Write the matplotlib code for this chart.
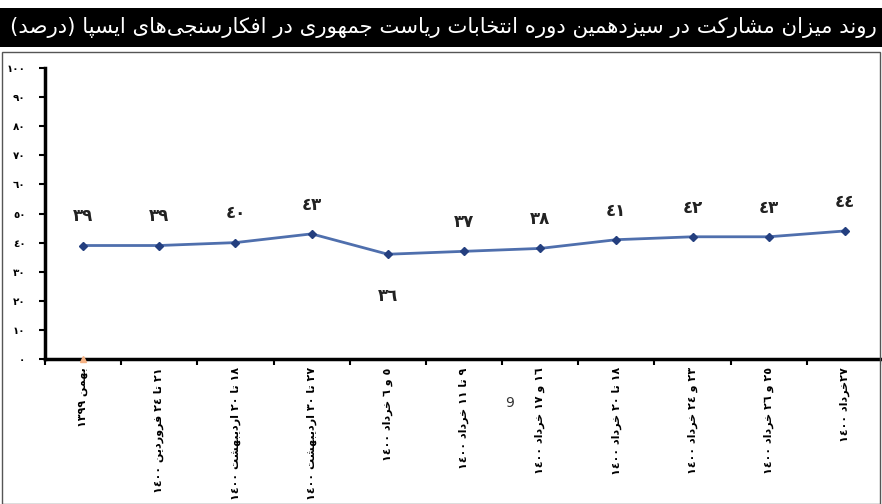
import re
import matplotlib
matplotlib.use('Agg')
from matplotlib import pyplot as plt
from matplotlib import font_manager as fm
from matplotlib.ft2font import FT2Font
from matplotlib.patches import Rectangle

# data
title = 'روند میزان مشارکت در سیزدهمین دوره انتخابات ریاست جمهوری در افکارسنجی\u200cهای ایسپا (درصد)'
categories = [
    'بهمن ١٣٩٩',
    '٢١ تا ٢٤ فروردین ١٤٠٠',
    '١٨ تا ٢٠ اردیبهشت ١٤٠٠',
    '٢٧ تا ٣٠ اردیبهشت ١٤٠٠',
    '٥ و ٦ خرداد ١٤٠٠',
    '٩ تا ١١ خرداد ١٤٠٠',
    '١٦ و ١٧ خرداد ١٤٠٠',
    '١٨ تا ٢٠ خرداد ١٤٠٠',
    '٢٣ و ٢٤ خرداد ١٤٠٠',
    '٢٥ و ٢٦ خرداد ١٤٠٠',
    '٢٧خرداد ١٤٠٠',
]
values = [39, 39, 40, 43, 36, 37, 38, 41, 42, 42, 44]
value_labels = ['٣٩', '٣٩', '٤٠', '٤٣', '٣٦', '٣٧', '٣٨', '٤١', '٤٢', '٤٣', '٤٤']
y_ticks = [0, 10, 20, 30, 40, 50, 60, 70, 80, 90, 100]
# stray second series (one orange point at zero)
extra_x = [0]
extra_y = [0]

AR_DIGITS = str.maketrans('0123456789', '٠١٢٣٤٥٦٧٨٩')

# matplotlib does no arabic shaping, so do it by hand with presentation forms
FORMS = {
    'ا': ('\uFE8D', '\uFE8E'),
    'ب': ('\uFE8F', '\uFE90', '\uFE91', '\uFE92'),
    'پ': ('\uFB56', '\uFB57', '\uFB58', '\uFB59'),
    'ت': ('\uFE95', '\uFE96', '\uFE97', '\uFE98'),
    'ج': ('\uFE9D', '\uFE9E', '\uFE9F', '\uFEA0'),
    'خ': ('\uFEA5', '\uFEA6', '\uFEA7', '\uFEA8'),
    'د': ('\uFEA9', '\uFEAA'),
    'ر': ('\uFEAD', '\uFEAE'),
    'ز': ('\uFEAF', '\uFEB0'),
    'س': ('\uFEB1', '\uFEB2', '\uFEB3', '\uFEB4'),
    'ش': ('\uFEB5', '\uFEB6', '\uFEB7', '\uFEB8'),
    'ص': ('\uFEB9', '\uFEBA', '\uFEBB', '\uFEBC'),
    'ف': ('\uFED1', '\uFED2', '\uFED3', '\uFED4'),
    'ک': ('\uFB8E', '\uFB8F', '\uFB90', '\uFB91'),
    'ل': ('\uFEDD', '\uFEDE', '\uFEDF', '\uFEE0'),
    'م': ('\uFEE1', '\uFEE2', '\uFEE3', '\uFEE4'),
    'ن': ('\uFEE5', '\uFEE6', '\uFEE7', '\uFEE8'),
    'ه': ('\uFEE9', '\uFEEA', '\uFEEB', '\uFEEC'),
    'و': ('\uFEED', '\uFEEE'),
    'ی': ('\uFBFC', '\uFBFD', '\uFBFE', '\uFBFF'),
}
FALLBACK = {
    'ی': ('\uFEEF', '\uFEF0', '\uFEF3', '\uFEF4'),
    'ک': ('\uFED9', '\uFEDA', '\uFEDB', '\uFEDC'),
    'پ': ('\uFE8F', '\uFE90', '\uFE91', '\uFE92'),
}

try:
    cmap = FT2Font(fm.findfont('DejaVu Sans')).get_charmap()
    for k, alt in FALLBACK.items():
        if not all(ord(c) in cmap for c in FORMS[k]):
            FORMS[k] = alt
except Exception as e:
    print(e)


def shape(text):
    out = []
    n = len(text)
    for i, ch in enumerate(text):
        if ch not in FORMS:
            if ch != '\u200c':
                out.append(ch)
            continue
        f = FORMS[ch]
        prev = i > 0 and text[i - 1] in FORMS and len(FORMS[text[i - 1]]) == 4
        nxt = i < n - 1 and text[i + 1] in FORMS and len(f) == 4
        if prev and nxt:
            out.append(f[3])
        elif nxt:
            out.append(f[2])
        elif prev:
            out.append(f[1])
        else:
            out.append(f[0])
    return ''.join(out)


def rtl(text):
    s = shape(text)
    parts = re.findall(r'[0-9\u0660-\u0669]+|[^0-9\u0660-\u0669]+', s)
    mirror = str.maketrans('()', ')(')
    vis = []
    for p in reversed(parts):
        if re.match(r'[0-9\u0660-\u0669]', p):
            vis.append(p)
        else:
            vis.append(p[::-1].translate(mirror))
    return ''.join(vis)


plt.rcParams['font.family'] = ['DejaVu Sans']

fig = plt.figure(figsize=(8.82, 5.04), dpi=100)
W, H = 882, 504

# black title banner and the grey frame round the chart
fig.patches.append(Rectangle((0, 1 - 47 / H), 1, 39 / H, transform=fig.transFigure,
                             facecolor='black', edgecolor='none', zorder=0))
fig.patches.append(Rectangle((2 / W, 0), 878 / W, 1 - 52 / H, transform=fig.transFigure,
                             facecolor='none', edgecolor='#555555', linewidth=1, zorder=0))
t = fig.text(877 / W, 1 - 28 / H, rtl(title), color='white', fontsize=15,
             ha='right', va='center')
fig.canvas.draw()
w = t.get_window_extent().width
t.set_fontsize(15 * 872 / w)

ax = fig.add_axes([45 / W, 1 - 359 / H, 838 / W, 291 / H])
x = list(range(len(values)))
ax.plot(x, values, color='#4f6fad', linewidth=2, marker='D', markersize=4,
        markerfacecolor='#243f7f', markeredgecolor='#243f7f', zorder=3)
ax.plot(extra_x, extra_y, linestyle='none', marker='^', markersize=4,
        color='#f4b183', clip_on=False, zorder=4)

for xi, v, lab in zip(x, values, value_labels):
    dy = -30 if v == min(values) else 21
    ax.annotate(lab, (xi, v), xytext=(0, dy), textcoords='offset points',
                ha='center', va='center', fontsize=12, fontweight='bold', color='#222222')

ax.set_xlim(-0.5, 10.5)
ax.set_ylim(0, 100)
ax.set_yticks(y_ticks)
ax.set_yticklabels([str(v).translate(AR_DIGITS) for v in y_ticks],
                   fontsize=7.5, fontweight='bold')
ax.tick_params(axis='y', direction='out', length=4, width=1.5, pad=10)

ax.set_xticks(x)
ax.set_xticklabels([rtl(c) for c in categories], rotation=90, fontsize=8,
                   fontweight='bold', va='top', ha='center')
ax.tick_params(axis='x', length=0, pad=6)
ax.set_xticks([i + 0.5 for i in range(-1, 11)], minor=True)
ax.tick_params(axis='x', which='minor', direction='out', length=4, width=1.5)

for s in ['top', 'right']:
    ax.spines[s].set_visible(False)
ax.spines['left'].set_linewidth(2.5)
ax.spines['bottom'].set_linewidth(2.5)

fig.text(510 / W, 1 - 403 / H, '9', fontsize=10, color='#333333', ha='center', va='center')

plt.savefig('out.png', dpi=100)
